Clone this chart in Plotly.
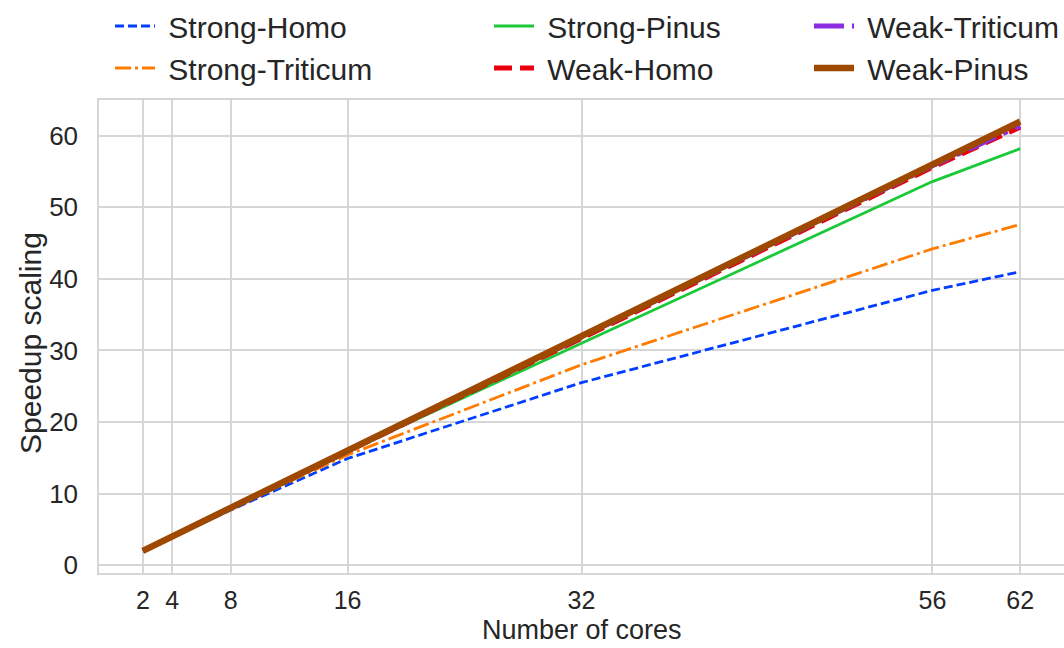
import plotly.graph_objects as go

cores = [2, 4, 8, 16, 32, 56, 62]
strong_homo = [2, 3.9, 7.7, 14.9, 25.5, 38.4, 41.0]
strong_triticum = [2, 4.0, 7.9, 15.4, 28.0, 44.2, 47.6]
strong_pinus = [2, 4.0, 8.0, 15.9, 31.0, 53.6, 58.2]
weak_homo = [2, 4.0, 8.0, 15.9, 31.7, 55.6, 61.2]
weak_triticum = [2, 4.0, 8.0, 15.9, 31.8, 55.8, 61.4]
weak_pinus = [2, 4.0, 8.0, 16.0, 32.0, 56.0, 62.0]

x_ticks = [2, 4, 8, 16, 32, 56, 62]
y_ticks = [0, 10, 20, 30, 40, 50, 60]

series = [
    ("Strong-Homo", strong_homo, "#023eff", 2.8, "9px,4px", "legend"),
    ("Strong-Triticum", strong_triticum, "#ff7c00", 2.8, "16px,4px,3px,4px", "legend"),
    ("Strong-Pinus", strong_pinus, "#1ac938", 2.8, "solid", "legend2"),
    ("Weak-Homo", weak_homo, "#e8000b", 5, "18px,8px", "legend2"),
    ("Weak-Triticum", weak_triticum, "#8b2be2", 5, "30px,8px,5px,8px", "legend3"),
    ("Weak-Pinus", weak_pinus, "#9f4800", 6.5, "solid", "legend3"),
]

fig = go.Figure()
for name, ys, color, w, dash, leg in series:
    fig.add_trace(go.Scatter(
        x=cores, y=ys, mode="lines", name="\u00a0" + name,
        line=dict(color=color, width=w, dash=dash),
        legend=leg,
    ))

FONT = "Liberation Sans, Arial, sans-serif"
TXT = "#262626"
GRID = "#d6d6d6"

leg_common = dict(
    xref="container", yref="container", yanchor="top", xanchor="left",
    orientation="v", font=dict(size=30, color=TXT, family=FONT),
    bgcolor="rgba(0,0,0,0)", itemwidth=40, tracegroupgap=0,
)

fig.update_layout(
    width=1064, height=648,
    margin=dict(l=99, r=0, t=100, b=75, autoexpand=False),
    paper_bgcolor="white", plot_bgcolor="white",
    font=dict(family=FONT, color=TXT),
    legend=dict(x=110 / 1064, y=1 - 0 / 648, **leg_common),
    legend2=dict(x=489 / 1064, y=1 - 0 / 648, **leg_common),
    legend3=dict(x=809 / 1064, y=1 - 0 / 648, **leg_common),
    xaxis=dict(
        range=[-1, 65], tickvals=x_ticks, ticktext=[str(v) for v in x_ticks],
        showgrid=True, gridcolor=GRID, gridwidth=1.5,
        showline=True, linecolor=GRID, linewidth=1.5, mirror=True,
        zeroline=False, ticks="", ticklabelstandoff=4,
        tickfont=dict(size=25, color=TXT),
    ),
    yaxis=dict(
        range=[-1.1, 65], tickvals=y_ticks, ticktext=[str(v) for v in y_ticks],
        showgrid=True, gridcolor=GRID, gridwidth=1.5,
        showline=True, linecolor=GRID, linewidth=1.5, mirror=True,
        zeroline=False, ticks="", ticklabelstandoff=14,
        tickfont=dict(size=26, color=TXT),
    ),
    annotations=[
        dict(text="Number of cores", xref="paper", yref="paper", x=0.5,
             y=-(646 - 573) / 473, xanchor="center", yanchor="bottom",
             borderpad=0, showarrow=False,
             font=dict(size=27, color=TXT, family=FONT)),
        dict(text="Speedup scaling", xref="paper", yref="paper",
             x=-(99 - 30) / 965, y=(573 - 343) / 473, xanchor="center",
             yanchor="middle", textangle=-90, showarrow=False,
             font=dict(size=30, color=TXT, family=FONT)),
    ],
)

fig.write_html("out.html")
